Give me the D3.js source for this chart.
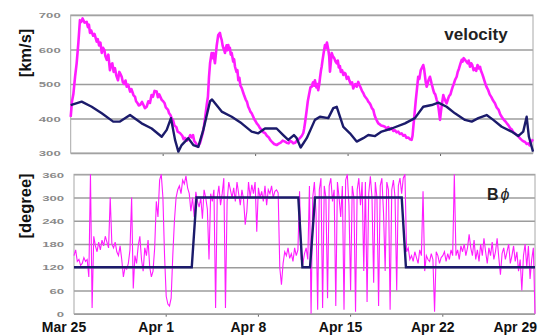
<!DOCTYPE html>
<html>
<head>
<meta charset="utf-8">
<script src="https://cdn.jsdelivr.net/npm/d3@7"></script>
<style>
  body { margin: 0; background: #fff; }
  svg { display: block; font-family: "Liberation Sans", Arial, sans-serif; }
</style>
</head>
<body>
<script>
const width = 546;
const height = 336;

// days since Mar 25
const dayTicks = [0, 7, 14, 21, 28, 35];
const dayLabels = ['Mar 25', 'Apr 1', 'Apr 8', 'Apr 15', 'Apr 22', 'Apr 29'];

const velTicks = [300, 400, 500, 600, 700];
const degTicks = [0, 60, 120, 180, 240, 300, 360];

// observed solar wind speed [day, km/s]
const velObserved = [
  [0, 405], [0.1, 450], [0.2, 470], [0.33, 521], [0.45, 560], [0.58, 619], [0.7, 685], [0.8, 680],
  [0.9, 690], [1.05, 678], [1.21, 680], [1.3, 665], [1.38, 672], [1.46, 648], [1.55, 655],
  [1.7, 640], [1.8, 645], [1.97, 623], [2.05, 630], [2.15, 612], [2.25, 620], [2.35, 590],
  [2.45, 605], [2.55, 598], [2.63, 580], [2.73, 570], [2.85, 585], [2.97, 540], [3.05, 555],
  [3.15, 560], [3.25, 535], [3.35, 546], [3.45, 525], [3.58, 511], [3.68, 535], [3.75, 530],
  [3.86, 521], [3.95, 505], [4.05, 500], [4.15, 510], [4.24, 492], [4.35, 498], [4.5, 478],
  [4.6, 485], [4.75, 468], [4.87, 463], [4.95, 450], [5.05, 445], [5.15, 438], [5.25, 439],
  [5.4, 448], [5.5, 440], [5.62, 430], [5.75, 434], [5.88, 450], [6.0, 445], [6.12, 468],
  [6.23, 463], [6.35, 480], [6.51, 478], [6.6, 462], [6.7, 470], [6.89, 454], [7.0, 450],
  [7.1, 445], [7.2, 432], [7.37, 425], [7.45, 415], [7.55, 410], [7.65, 400], [7.74, 396],
  [7.85, 380], [8.0, 375], [8.1, 362], [8.27, 358], [8.45, 350], [8.55, 340], [8.65, 344],
  [8.8, 336], [8.9, 340], [9.05, 352], [9.15, 345], [9.26, 352], [9.35, 335], [9.45, 330],
  [9.64, 318], [9.8, 330], [10.0, 358], [10.1, 380], [10.2, 410], [10.3, 440], [10.39, 463],
  [10.47, 520], [10.55, 560], [10.67, 590], [10.74, 575], [10.8, 590], [10.92, 560], [11.0, 590],
  [11.05, 610], [11.17, 642], [11.3, 648], [11.37, 635], [11.43, 628], [11.5, 612], [11.55, 605],
  [11.62, 598], [11.68, 590], [11.75, 605], [11.8, 612], [11.87, 598], [11.93, 613], [12.0, 600],
  [12.05, 605], [12.12, 585], [12.19, 590], [12.3, 565], [12.37, 572], [12.44, 550], [12.55, 535],
  [12.62, 540], [12.69, 511], [12.77, 518], [12.85, 495], [12.95, 488], [13.07, 474], [13.15, 465],
  [13.25, 455], [13.35, 448], [13.44, 434], [13.52, 428], [13.6, 420], [13.7, 415], [13.82, 405],
  [13.9, 398], [14.0, 392], [14.1, 385], [14.2, 381], [14.33, 372], [14.45, 368], [14.58, 360],
  [14.71, 358], [14.85, 350], [15.0, 345], [15.1, 338], [15.22, 333], [15.4, 326], [15.59, 323],
  [15.75, 327], [15.9, 330], [16.05, 336], [16.22, 333], [16.35, 330], [16.5, 328], [16.62, 335],
  [16.73, 333], [16.85, 328], [17.0, 330], [17.12, 336], [17.23, 338], [17.4, 345], [17.5, 350],
  [17.61, 358], [17.68, 372], [17.75, 390], [17.87, 425], [17.95, 450], [18.05, 470], [18.15, 490],
  [18.24, 492], [18.35, 505], [18.42, 495], [18.49, 511], [18.6, 490], [18.67, 500], [18.74, 482],
  [18.82, 500], [18.88, 520], [18.95, 540], [19.0, 550], [19.07, 570], [19.15, 590], [19.25, 613],
  [19.32, 605], [19.4, 620], [19.5, 600], [19.57, 580], [19.63, 536], [19.7, 565], [19.76, 590],
  [19.85, 580], [19.95, 575], [20.05, 565], [20.14, 560], [20.22, 568], [20.3, 548], [20.38, 552],
  [20.45, 535], [20.55, 540], [20.64, 526], [20.72, 532], [20.8, 530], [20.9, 515], [21.01, 521],
  [21.1, 510], [21.2, 500], [21.3, 505], [21.39, 487], [21.47, 495], [21.55, 500], [21.65, 492],
  [21.77, 506], [21.85, 498], [21.95, 490], [22.05, 480], [22.15, 474], [22.25, 465], [22.35, 460],
  [22.45, 455], [22.53, 449], [22.62, 445], [22.7, 440], [22.8, 430], [22.91, 425], [23.0, 410],
  [23.1, 400], [23.2, 392], [23.29, 386], [23.4, 383], [23.5, 380], [23.65, 378], [23.79, 376],
  [23.9, 371], [24.05, 375], [24.15, 368], [24.3, 372], [24.42, 364], [24.55, 366], [24.68, 360],
  [24.8, 362], [24.92, 355], [25.05, 357], [25.18, 350], [25.31, 352], [25.42, 344], [25.55, 345],
  [25.68, 340], [25.81, 338], [25.88, 350], [25.95, 380], [26.06, 425], [26.13, 455], [26.2, 480],
  [26.31, 521], [26.4, 515], [26.5, 540], [26.6, 548], [26.69, 555], [26.75, 545], [26.8, 530],
  [26.88, 505], [26.95, 492], [27.02, 500], [27.08, 510], [27.2, 521], [27.27, 510], [27.33, 500],
  [27.4, 490], [27.45, 482], [27.52, 474], [27.6, 470], [27.71, 454], [27.78, 445], [27.85, 430],
  [27.96, 396], [28.03, 420], [28.1, 440], [28.21, 468], [28.27, 460], [28.33, 455], [28.4, 448],
  [28.46, 444], [28.55, 455], [28.65, 465], [28.75, 470], [28.84, 482], [28.92, 492], [29.0, 500],
  [29.1, 512], [29.22, 521], [29.3, 535], [29.4, 545], [29.5, 558], [29.6, 570], [29.67, 565],
  [29.75, 575], [29.85, 570], [29.95, 565], [30.05, 560], [30.13, 568], [30.23, 550], [30.32, 560],
  [30.4, 555], [30.5, 540], [30.61, 545], [30.7, 538], [30.8, 555], [30.9, 545], [30.99, 550],
  [31.05, 540], [31.1, 535], [31.17, 528], [31.23, 521], [31.32, 510], [31.4, 500], [31.5, 490],
  [31.61, 482], [31.72, 470], [31.85, 462], [31.98, 452], [32.12, 444], [32.25, 432], [32.4, 425],
  [32.52, 412], [32.63, 405], [32.75, 398], [32.9, 392], [33.02, 386], [33.13, 381], [33.27, 372],
  [33.4, 368], [33.52, 360], [33.63, 357], [33.77, 352], [33.9, 348], [34.02, 342], [34.14, 338],
  [34.27, 334], [34.4, 332], [34.52, 326], [34.64, 328], [34.75, 322], [34.85, 332], [35.0, 340]
];

// model solar wind speed [day, km/s]
const velModel = [
  [0, 439], [0.83, 449], [1.59, 434], [2.35, 415], [3.22, 391], [3.73, 391], [4.49, 410],
  [5.37, 386], [6.13, 371], [6.89, 347], [7.27, 367], [7.59, 401], [7.9, 338], [8.15, 304],
  [8.4, 323], [8.9, 343], [9.28, 323], [9.66, 318], [10.04, 367], [10.55, 450], [10.7, 455],
  [11.43, 420], [12.19, 405], [12.94, 386], [13.7, 362], [14.2, 357], [14.71, 371], [15.59, 371],
  [16.09, 352], [16.47, 338], [16.9, 352], [17.11, 343], [17.41, 316], [17.87, 343], [18.49, 396],
  [18.87, 405], [19.5, 401], [19.88, 430], [20.14, 434], [20.39, 405], [20.64, 376], [21.14, 357],
  [21.65, 333], [22.15, 343], [22.53, 352], [23.04, 349], [23.54, 362], [24.3, 371], [25.31, 386],
  [26.06, 401], [26.69, 434], [27.33, 439], [27.83, 446], [28.46, 434], [29.09, 415], [29.85, 396],
  [30.36, 391], [30.86, 401], [31.49, 410], [31.99, 396], [32.63, 376], [33.38, 362], [33.88, 349],
  [34.26, 362], [34.52, 405], [34.69, 347], [35.0, 304]
];

// observed B phi, one value every 3 hours (8 per day)
const bphiObserved = [
  150, 165, 135, 140, 125, 130, 145, 135,
  140, 95, 360, 15, 200, 175, 160, 185,
  165, 190, 175, 200, 185, 170, 300, 180,
  170, 185, 160, 150, 175, 140, 95, 120,
  115, 130, 165, 300, 65, 150, 130, 175,
  200, 140, 110, 170, 150, 190, 120, 95,
  110, 170, 290, 250, 345, 360, 300, 150,
  45, 25, 20, 40, 150, 240, 300, 320,
  330, 310, 345, 335, 356, 325, 310, 265,
  300, 250, 315, 290, 275, 300, 245, 320,
  300, 270, 140, 310, 290, 320, 15, 300,
  330, 280, 310, 350, 15, 290, 340, 320,
  300, 325, 290, 340, 310, 280, 320, 295,
  230, 265, 340, 300, 333, 310, 340, 212,
  325, 300, 316, 290, 330, 280, 320, 310,
  330, 300, 316, 320, 312, 118, 75, 130,
  160, 150, 170, 143, 155, 135, 170, 150,
  165, 316, 140, 130, 155, 170, 140, 330,
  0, 300, 340, 260, 10, 320, 350, 15,
  330, 300, 40, 330, 350, 290, 320, 20,
  340, 300, 250, 330, 10, 345, 360, 280,
  60, 330, 300, 5, 320, 350, 280, 340,
  110, 340, 30, 310, 355, 300, 80, 340,
  300, 20, 330, 350, 260, 110, 340, 320,
  10, 320, 345, 300, 60, 330, 350, 310,
  350, 360, 160, 170, 140, 150, 135, 160,
  145, 130, 165, 150, 316, 110, 150, 140,
  135, 155, 140, 5, 160, 150, 130, 145,
  150, 160, 135, 155, 140, 165, 150, 360,
  150, 165, 140, 175, 160, 180, 150, 170,
  205, 170, 150, 190, 140, 165, 135, 180,
  150, 195, 160, 130, 170, 150, 185, 140,
  160, 195, 145, 101, 155, 170, 140, 160,
  180, 130, 150, 175, 135, 160, 110, 140,
  60, 150, 180, 120, 175, 90, 140, 170,
  0
];

// model B phi sector [day, degree]
const bphiModel = [
  [0, 120], [8.94, 120], [9.3, 300], [17.03, 300], [17.34, 120], [17.92, 120],
  [18.3, 300], [24.88, 300], [25.2, 120], [35, 120]
];

const magenta = '#ff1cff';
const navy = '#1b1b6b';
const gridColor = '#9c9c9c';

const svg = d3.select('body').append('svg')
    .attr('width', width)
    .attr('height', height);

function panel(opts) {
    const x = d3.scaleLinear().domain([0, 35]).range([opts.left, opts.right]);
    const y = d3.scaleLinear().domain(opts.domain).range([opts.bottom, opts.top]);
    const g = svg.append('g');

    // grid + tick labels
    const axis = g.append('g')
        .attr('transform', `translate(${opts.left},0)`)
        .call(d3.axisLeft(y).tickValues(opts.ticks).tickSize(-(opts.right - opts.left)).tickPadding(0));
    axis.select('.domain').remove();
    axis.selectAll('line').attr('stroke', gridColor).attr('stroke-width', 1.4);
    axis.selectAll('text')
        .attr('fill', '#8a8a8a')
        .attr('font-weight', 'bold')
        .attr('font-size', 7.5)
        .attr('x', -opts.labelGap / 1.75)
        .attr('dy', '0.36em')
        .attr('transform', 'scale(1.75,1)');

    g.append('rect')
        .attr('x', opts.left).attr('y', opts.top)
        .attr('width', opts.right - opts.left).attr('height', opts.bottom - opts.top)
        .attr('fill', 'none').attr('stroke', '#a8a8a8').attr('stroke-width', 1);

    // small week marks
    g.append('g').selectAll('line')
        .data(dayTicks.slice(1, -1))
        .join('line')
        .attr('x1', d => x(d)).attr('x2', d => x(d))
        .attr('y1', opts.bottom + 1).attr('y2', opts.bottom + 3)
        .attr('stroke', '#666').attr('stroke-width', 1);

    return {x, y, g};
}

// ---- velocity panel ----
const velPanel = panel({left: 70.7, right: 533, top: 15, bottom: 153, domain: [300, 700], ticks: velTicks, labelGap: 10});

velPanel.g.append('path')
    .datum(velObserved)
    .attr('fill', 'none')
    .attr('stroke', magenta)
    .attr('stroke-width', 2.6)
    .attr('stroke-linejoin', 'round')
    .attr('d', d3.line().x(d => velPanel.x(d[0])).y(d => velPanel.y(d[1])));

velPanel.g.append('path')
    .datum(velModel)
    .attr('fill', 'none')
    .attr('stroke', navy)
    .attr('stroke-width', 2.4)
    .attr('stroke-linejoin', 'round')
    .attr('d', d3.line().x(d => velPanel.x(d[0])).y(d => velPanel.y(d[1])));

velPanel.g.append('text')
    .attr('x', 476).attr('y', 40)
    .attr('text-anchor', 'middle')
    .attr('font-size', 17).attr('font-weight', 'bold')
    .attr('fill', '#222')
    .text('velocity');

svg.append('text')
    .attr('transform', 'translate(31,53) rotate(-90)')
    .attr('text-anchor', 'middle')
    .attr('font-size', 16.5).attr('font-weight', 'bold')
    .attr('fill', '#111')
    .text('[km/s]');

// ---- B phi panel ----
const degPanel = panel({left: 74, right: 535, top: 174.3, bottom: 313.7, domain: [0, 360], ticks: degTicks, labelGap: 10});

degPanel.g.append('path')
    .datum(bphiObserved)
    .attr('fill', 'none')
    .attr('stroke', magenta)
    .attr('stroke-width', 1.1)
    .attr('d', d3.line().x((d, i) => degPanel.x(i / 8)).y(d => degPanel.y(d)));

degPanel.g.append('path')
    .datum(bphiModel)
    .attr('fill', 'none')
    .attr('stroke', navy)
    .attr('stroke-width', 2.4)
    .attr('d', d3.line().x(d => degPanel.x(d[0])).y(d => degPanel.y(d[1])));

const bLabel = degPanel.g.append('text')
    .attr('x', 487).attr('y', 200)
    .attr('font-size', 16)
    .attr('fill', '#222');
bLabel.append('tspan').attr('font-weight', 'bold').text('B');
bLabel.append('tspan').attr('dx', 2).attr('font-style', 'italic').text('ϕ');

svg.append('text')
    .attr('transform', 'translate(31,206) rotate(-90)')
    .attr('text-anchor', 'middle')
    .attr('font-size', 16.5).attr('font-weight', 'bold')
    .attr('fill', '#111')
    .text('[degree]');

// date labels
svg.append('g').selectAll('text')
    .data(dayTicks)
    .join('text')
    .attr('x', (d, i) => i === dayTicks.length - 1 ? 537 : degPanel.x(d) - 10)
    .attr('y', 332)
    .attr('text-anchor', (d, i) => i === dayTicks.length - 1 ? 'end' : 'middle')
    .attr('font-size', 14).attr('font-weight', 'bold')
    .attr('fill', '#111')
    .text((d, i) => dayLabels[i]);
</script>
</body>
</html>
